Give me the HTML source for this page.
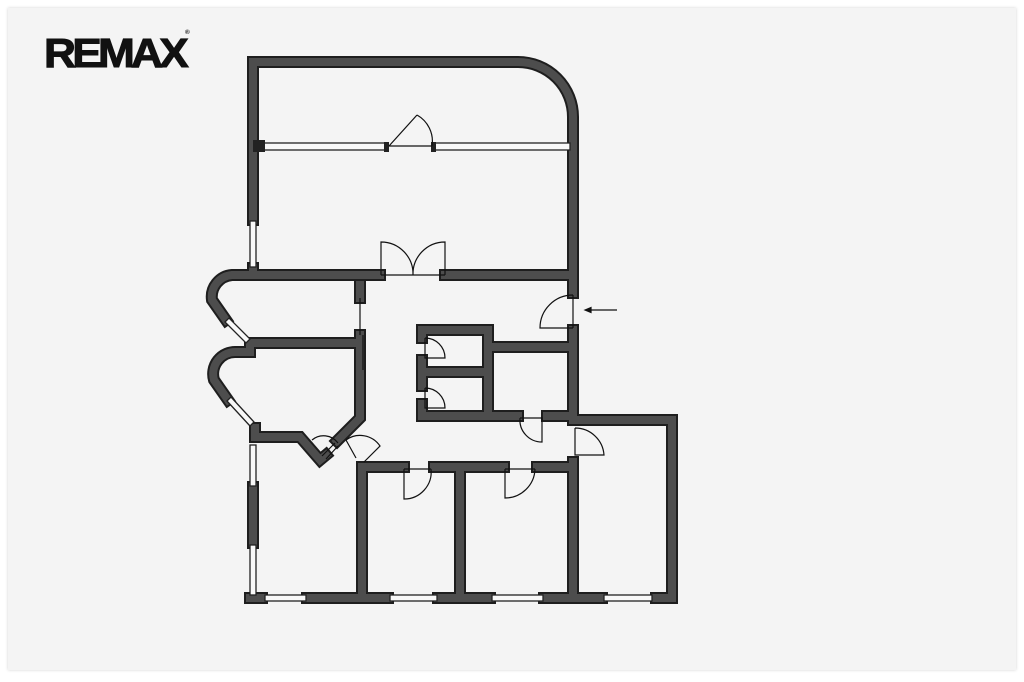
<!DOCTYPE html>
<html><head><meta charset="utf-8"><style>
html,body{margin:0;padding:0;background:#fff;}
.wrap{position:relative;width:1024px;height:682px;overflow:hidden;background:#fff;}
.paper{position:absolute;left:8px;top:8px;width:1008px;height:662px;background:#f4f4f4;box-shadow:0 0 3px rgba(0,0,0,0.18);}
.logo{position:absolute;left:44px;top:30px;font-family:"Liberation Sans",sans-serif;font-weight:bold;font-size:41px;letter-spacing:-3.5px;color:#111;transform:scaleX(1.08);transform-origin:left;-webkit-text-stroke:1px #111;}
.logo sup{font-size:6px;letter-spacing:0;vertical-align:top;-webkit-text-stroke:0;}
svg{position:absolute;left:0;top:0;}
</style></head><body><div class="wrap">
<div class="paper"></div>
<div class="logo">REMAX<sup>®</sup></div>
<svg width="1024" height="682" viewBox="0 0 1024 682">
<defs>
<g id="walls" fill="none" stroke-linejoin="miter" stroke-linecap="square">
<path d="M253 220 L253 62 L518 62 A55 55 0 0 1 573 117 L573 293"/>
<path d="M253 268 L253 275 L380 275"/>
<path d="M445 275 L573 275"/>
<path d="M573 330 L573 420 L672 420 L672 598 L656 598"/>
<path d="M573 462 L573 598"/>
<path d="M253 275 L232 275 A22 22 0 0 0 212 300 L226 320"/>
<path d="M360 285 L360 298"/>
<path d="M250 343 L360 343 M250 343 L250 352 L236 352 A22 22 0 0 0 214 380 L228 400"/>
<path d="M360 335 L360 418 L337 441"/>
<path d="M255 428 L255 437 L300 437 L320 460 L326 455"/>
<path d="M422 338 L422 330 L488 330 L488 416 L422 416 L422 404"/>
<path d="M422 360 L422 386 M422 372 L488 372"/>
<path d="M488 347 L573 347"/>
<path d="M488 416 L518 416 M547 416 L573 416"/>
<path d="M404 467 L362 467 L362 598 M307 598 L388 598"/>
<path d="M434 467 L504 467 M460 467 L460 598 M438 598 L490 598"/>
<path d="M537 467 L573 467 M544 598 L602 598"/>
<path d="M253 487 L253 543"/>
<path d="M250 598 L262 598"/>
</g>
</defs>
<use href="#walls" stroke="#1e1e1e" stroke-width="12"/>
<use href="#walls" stroke="#4d4d4d" stroke-width="8"/>
<g stroke="#222" stroke-width="1.3" fill="#f8f8f8">
<rect x="250" y="221" width="6" height="46"/>
<rect x="264" y="143" width="122" height="7"/>
<rect x="434" y="143" width="136" height="7"/>
<rect x="250" y="445" width="6" height="41"/>
<rect x="250" y="545" width="6" height="50"/>
<rect x="265" y="595" width="41" height="6"/>
<rect x="390" y="595" width="47" height="6"/>
<rect x="492" y="595" width="51" height="6"/>
<rect x="604" y="595" width="48" height="6"/>
<path d="M225 322 L229 318 L250 339 L246 343 Z"/>
<path d="M227 401 L231 397 L254 422 L250 426 Z"/>
</g>
<g fill="#222"><rect x="384" y="142" width="5" height="10"/><rect x="431" y="142" width="5" height="10"/><rect x="253" y="140" width="12" height="12"/></g>
<g fill="none" stroke="#111" stroke-width="1.2">
<path d="M389 146 L417 115 M417 115 A30 30 0 0 1 432 146 M389 146 L432 146"/>
<path d="M381 275 L381 242 A32 32 0 0 1 413 275 M445 275 L445 242 A32 32 0 0 0 413 275 M381 275 L445 275"/>
<path d="M573 295 L573 328 M573 295 A33 33 0 0 0 540 328 L573 328"/>
<path d="M360 298 L360 335 M363 335 L363 370"/>
<path d="M425 338 L425 358 L445 358 A20 20 0 0 0 425 338"/>
<path d="M425 388 L425 408 L445 408 A20 20 0 0 0 425 388"/>
<path d="M520 418 L542 418 L542 442 A22 22 0 0 1 520 418"/>
<path d="M575 428 L575 455 L604 455 A29 29 0 0 0 575 428"/>
<path d="M404 469 L431 469 M404 469 L404 499 A27 27 0 0 0 431 469"/>
<path d="M505 469 L535 469 M505 469 L505 498 A30 30 0 0 0 535 469"/>
<path d="M312 440 A18 18 0 0 1 338 443 M322 456 L335 443 M326 459 L338 446"/>
<path d="M346 440 L356 458 M346 440 A24 24 0 0 1 380 446 L364 462"/>
<path d="M585 310 L617 310 M585 310 L591 307.5 L591 312.5 Z" fill="#111"/>
</g>
</svg>
</div></body></html>
